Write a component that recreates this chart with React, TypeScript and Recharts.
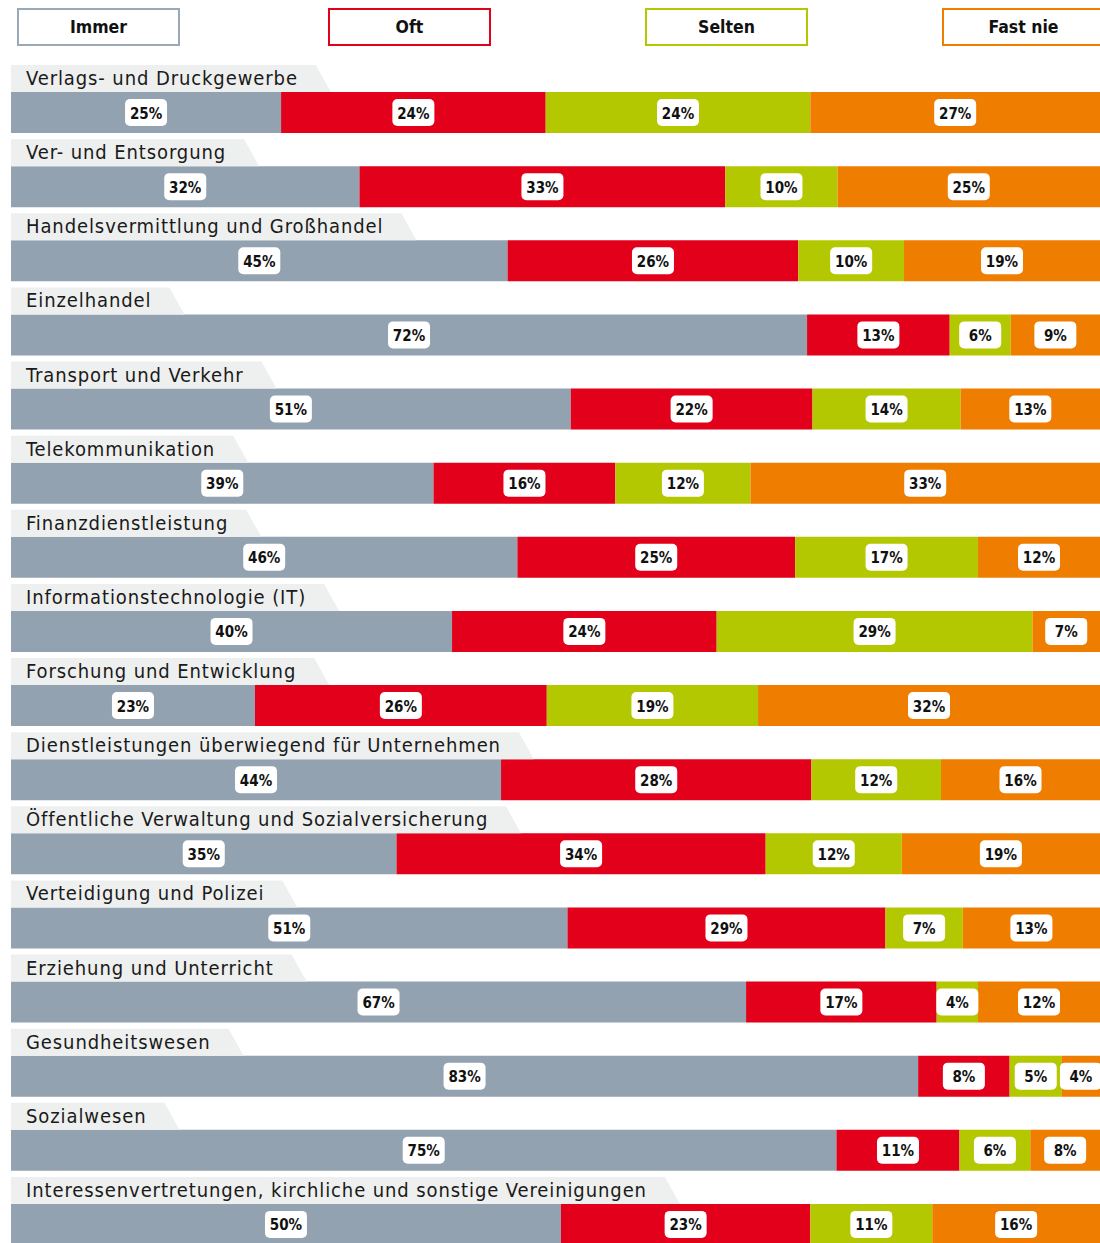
import { BarChart, Bar, XAxis, YAxis, LabelList } from "recharts";

const categories = [
  "Verlags- und Druckgewerbe",
  "Ver- und Entsorgung",
  "Handelsvermittlung und Großhandel",
  "Einzelhandel",
  "Transport und Verkehr",
  "Telekommunikation",
  "Finanzdienstleistung",
  "Informationstechnologie (IT)",
  "Forschung und Entwicklung",
  "Dienstleistungen überwiegend für Unternehmen",
  "Öffentliche Verwaltung und Sozialversicherung",
  "Verteidigung und Polizei",
  "Erziehung und Unterricht",
  "Gesundheitswesen",
  "Sozialwesen",
  "Interessenvertretungen, kirchliche und sonstige Vereinigungen",
];

// shares as drawn (bar lengths)
const immer = [24.8, 32.0, 45.6, 73.1, 51.4, 38.8, 46.5, 40.5, 22.4, 45.0, 35.4, 51.1, 67.5, 83.3, 75.8, 50.5];
const oft = [24.3, 33.6, 26.7, 13.1, 22.2, 16.7, 25.5, 24.3, 26.8, 28.5, 33.9, 29.2, 17.5, 8.4, 11.3, 22.9];
const selten = [24.3, 10.3, 9.7, 5.6, 13.6, 12.4, 16.8, 29.0, 19.4, 11.9, 12.5, 7.1, 3.8, 4.8, 6.5, 11.2];
const fastNie = [26.6, 24.1, 18.0, 8.2, 12.8, 32.1, 11.2, 6.2, 31.4, 14.6, 18.2, 12.6, 11.2, 3.5, 6.4, 15.4];

// rounded percentages printed in the boxes
const immerLbl = [25, 32, 45, 72, 51, 39, 46, 40, 23, 44, 35, 51, 67, 83, 75, 50];
const oftLbl = [24, 33, 26, 13, 22, 16, 25, 24, 26, 28, 34, 29, 17, 8, 11, 23];
const seltenLbl = [24, 10, 10, 6, 14, 12, 17, 29, 19, 12, 12, 7, 4, 5, 6, 11];
const fastNieLbl = [27, 25, 19, 9, 13, 33, 12, 7, 32, 16, 19, 13, 12, 4, 8, 16];

const seriesNames = ["Immer", "Oft", "Selten", "Fast nie"];
const seriesKeys = ["immer", "oft", "selten", "fastNie"];
const seriesColors = ["#93a2b0", "#e2001a", "#b3c800", "#ef7d00"];
const legendBorders = ["#9aa9b7", "#e2001a", "#b3c800", "#ef7d00"];

const data = categories.map((name, i) => ({
  name,
  immer: immer[i], oft: oft[i], selten: selten[i], fastNie: fastNie[i],
  immerLbl: immerLbl[i], oftLbl: oftLbl[i], seltenLbl: seltenLbl[i], fastNieLbl: fastNieLbl[i],
}));

const FONT = "'DejaVu Sans Condensed', 'DejaVu Sans', sans-serif";
const BAR = 41;
const PLOT_LEFT = 11;
const TAB_H = 27;
const LABEL_SPACING = 0.9;

let ctx: CanvasRenderingContext2D | null = null;
function measure(text: string, font: string) {
  if (!ctx) ctx = document.createElement("canvas").getContext("2d");
  if (!ctx) return text.length * 10;
  ctx.font = font;
  return ctx.measureText(text).width;
}

// grey tab with slanted right edge sitting on top of every bar
function CategoryTab(props: any) {
  const { x, y, value } = props;
  const label = String(value);
  const tx = x + 15;
  const end = tx + measure(label, `20px 'DejaVu Sans Condensed'`) + label.length * LABEL_SPACING;
  const pts = `${x},${y - TAB_H} ${end + 18},${y - TAB_H} ${end + 33},${y} ${x},${y}`;
  return (
    <g>
      <polygon points={pts} fill="#eeefef" />
      <text x={tx} y={y - 7} fontSize={20} fontFamily={FONT} fill="#1a1a1a" letterSpacing={LABEL_SPACING}>
        {label}
      </text>
    </g>
  );
}

function PctLabel(props: any) {
  const { x, y, width, height, value } = props;
  if (value == null) return null;
  const cx = x + width / 2;
  const cy = y + height / 2;
  return (
    <g>
      <rect x={cx - 21} y={cy - 13.5} width={42} height={27} rx={5} fill="#fff" />
      <text x={cx} y={cy + 1} textAnchor="middle" dominantBaseline="central"
        fontSize={15} fontWeight={700} fontFamily={FONT} fill="#111">
        {value}%
      </text>
    </g>
  );
}

function LegendRow() {
  const lefts = [17, 328, 645, 942];
  return (
    <>
      {seriesNames.map((n, i) => (
        <div key={n} style={{
          position: "absolute", left: lefts[i], top: 8, width: 163, height: 38, boxSizing: "border-box",
          border: `2.5px solid ${legendBorders[i]}`, background: "#fff",
          display: "flex", alignItems: "center", justifyContent: "center",
          fontFamily: FONT, fontWeight: 700, fontSize: 17.5, color: "#111",
        }}>
          {n}
        </div>
      ))}
    </>
  );
}

export default function App() {
  return (
    <div style={{ position: "absolute", left: 0, top: 0, width: 1100, height: 1243, overflow: "hidden", background: "#fff" }}>
      <LegendRow />
      <BarChart width={1100} height={1262} data={data} layout="vertical" barSize={BAR}
        margin={{ top: 75, right: 0, left: PLOT_LEFT, bottom: 1 }}>
        <XAxis type="number" domain={[0, 100]} allowDataOverflow hide />
        <YAxis type="category" dataKey="name" hide />
        {seriesKeys.map((k, i) => (
          <Bar key={k} dataKey={k} name={seriesNames[i]} stackId="a" fill={seriesColors[i]} isAnimationActive={false}>
            {i === 0 && <LabelList dataKey="name" content={<CategoryTab />} />}
            <LabelList dataKey={`${k}Lbl`} content={<PctLabel />} />
          </Bar>
        ))}
      </BarChart>
    </div>
  );
}
